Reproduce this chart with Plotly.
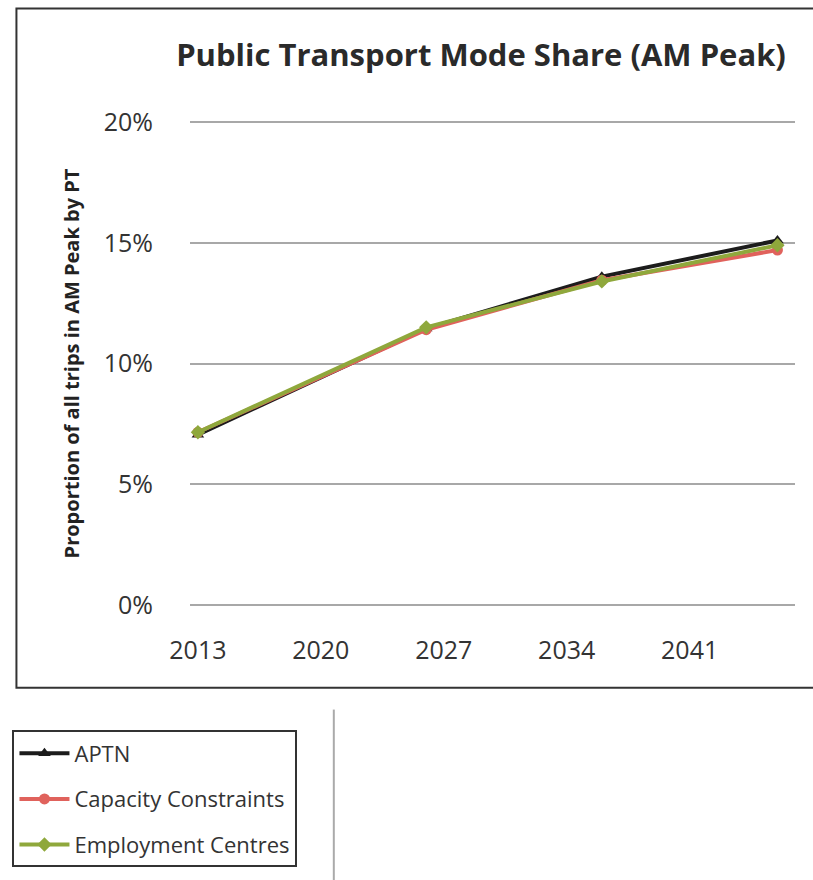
import plotly.graph_objects as go

# Modelled public transport share of AM peak trips, by scenario
years = [2013, 2026, 2036, 2046]
aptn = [7.05, 11.45, 13.6, 15.1]
capacity_constraints = [7.15, 11.4, 13.45, 14.7]
employment_centres = [7.15, 11.5, 13.4, 14.9]

x_ticks = [2013, 2020, 2027, 2034, 2041]
y_ticks = [0, 5, 10, 15, 20]
y_tick_labels = ["0%", "5%", "10%", "15%", "20%"]

W, H = 813, 880
L, R, T, B = 185, 18, 121, 272
PW, PH = W - L - R, H - T - B


def px(x):
    return (x - L) / PW


def py(y):
    return (H - B - y) / PH


FONT = "Open Sans"

fig = go.Figure()
series = [
    ("APTN", aptn, "#1c1c1c", "triangle-up"),
    ("Capacity Constraints", capacity_constraints, "#e0625c", "circle"),
    ("Employment Centres", employment_centres, "#8fa83c", "diamond"),
]
for name, vals, color, sym in series:
    fig.add_trace(go.Scatter(
        x=years, y=vals, name=name, legendgroup=name,
        mode="lines+markers",
        line=dict(color=color, width=4),
        marker=dict(symbol=sym, size=11, color=color),
    ))

fig.update_layout(
    width=W, height=H,
    margin=dict(l=L, r=R, t=T, b=B),
    paper_bgcolor="white", plot_bgcolor="white",
    title=dict(
        text="<b>Public Transport Mode Share (AM Peak)</b>",
        xref="container", x=481 / W, xanchor="center",
        y=1 - 55 / H, yanchor="middle",
        font=dict(family=FONT, size=31, color="#2a2a2a"),
    ),
    xaxis=dict(
        range=[2012.55, 2047], tickvals=x_ticks, showgrid=False,
        zeroline=False, showline=False, ticks="", ticklabelstandoff=27,
        tickfont=dict(family=FONT, size=25, color="#333"),
    ),
    yaxis=dict(
        range=[-0.05, 20.05], tickvals=y_ticks, ticktext=y_tick_labels,
        showgrid=True, gridcolor="#a8a8a8", gridwidth=2,
        zeroline=False, showline=False, ticks="", ticklabelstandoff=36,
        tickfont=dict(family=FONT, size=25, color="#333"),
        title=dict(
            text="<b>Proportion of all trips in AM Peak by PT</b>",
            font=dict(family=FONT, size=20, color="#222"), standoff=18,
        ),
    ),
    legend=dict(
        x=px(6), xanchor="left", y=py(733), yanchor="top",
        bordercolor="#333", borderwidth=2, bgcolor="white",
        font=dict(family=FONT, size=22, color="#333"),
        tracegroupgap=14, itemwidth=50,
    ),
    showlegend=True,
)

# Chart area frame and separator line
fig.add_shape(type="rect", xref="paper", yref="paper",
              x0=px(10), x1=px(830), y0=py(690), y1=py(8),
              line=dict(color="#333", width=2), layer="below")
fig.add_shape(type="line", xref="paper", yref="paper",
              x0=px(330), x1=px(330), y0=py(712), y1=py(885),
              line=dict(color="#aaa", width=2))

fig.write_html("out.html")
